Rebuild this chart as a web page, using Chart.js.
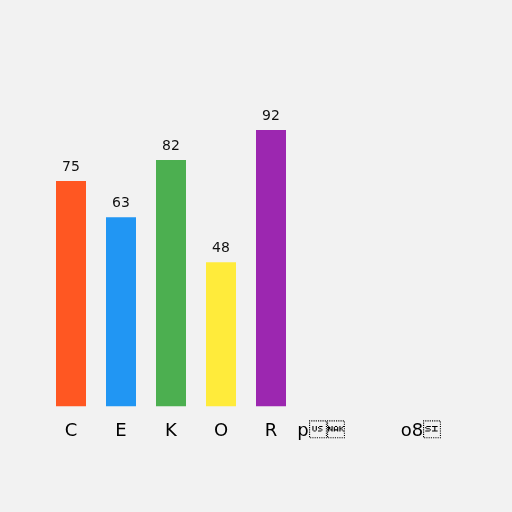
<!DOCTYPE html>
<html>
<head>
<meta charset="utf-8">
<script src="https://cdn.jsdelivr.net/npm/chart.js@4"></script>
<style>
  html, body { margin: 0; padding: 0; background: #f2f2f2; }
  #wrap { width: 512px; height: 512px; }
</style>
</head>
<body>
<div id="wrap"><canvas id="myChart" width="512" height="512"></canvas></div>
<script>
let labels = ['C', 'E', 'K', 'O', 'R', 'p\u001F\u0015', '', 'o8\u000F']
let values = [75, 63, 82, 48, 92, null, null, null]
let colors = ['#FF5722', '#2196F3', '#4CAF50', '#FFEB3B', '#9C27B0', '#9E9E9E', '#9E9E9E', '#9E9E9E']

const valueLabels = {
  id: 'valueLabels',
  afterDatasetsDraw(chart) {
    let ctx = chart.ctx
    let meta = chart.getDatasetMeta(0)
    ctx.save()
    ctx.font = '14px "DejaVu Sans"'
    ctx.fillStyle = '#111'
    ctx.textAlign = 'center'
    ctx.textBaseline = 'alphabetic'
    meta.data.forEach((bar, i) => {
      if (values[i] == null) return
      ctx.fillText(String(values[i]), bar.x, bar.y - 10)
    })
    ctx.restore()
  },
}

const config = {
  type: 'bar',
  data: {
    labels: labels,
    datasets: [
      {
        data: values,
        backgroundColor: colors,
        barPercentage: 0.75,
        categoryPercentage: 0.8,
      },
    ],
  },
  options: {
    responsive: false,
    animation: false,
    layout: { padding: { left: 46, right: 66, top: 106, bottom: 64 } },
    plugins: { legend: { display: false }, tooltip: { enabled: false } },
    scales: {
      y: { display: false, min: 0, max: 100 },
      x: {
        grid: { display: false },
        border: { display: false },
        ticks: {
          color: '#000',
          font: { family: 'DejaVu Sans', size: 18 },
          padding: 6,
          autoSkip: false,
          maxRotation: 0,
        },
      },
    },
  },
  plugins: [valueLabels],
}

var myChart = new Chart(document.getElementById('myChart'), config)
</script>
</body>
</html>
